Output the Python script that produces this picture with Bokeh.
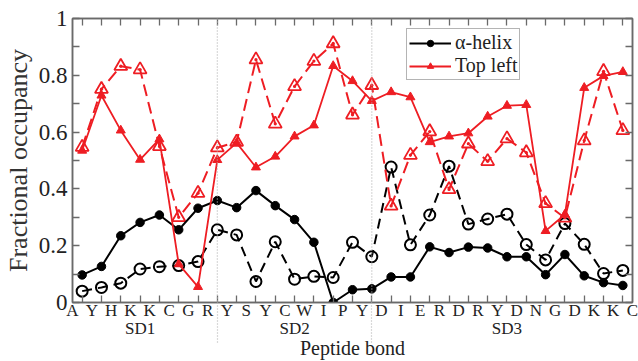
from bokeh.plotting import figure
from bokeh.models import (Range1d, FixedTicker, LinearAxis, Legend, LegendItem, Span)
from bokeh.embed import file_html
from bokeh.resources import INLINE

# ---------------- data ----------------
residues = ["A", "Y", "H", "K", "K", "C", "G", "R",
            "Y", "S", "Y", "C", "W", "I", "P", "Y",
            "D", "I", "E", "R", "D", "R", "Y", "D", "N", "G", "D", "K", "K", "C"]
domains = ["SD1", "SD2", "SD3"]
domain_sizes = [8, 8, 14]

helix_solid = [0.097, 0.127, 0.235, 0.282, 0.308, 0.256, 0.332, 0.359,
               0.334, 0.394, 0.341, 0.292, 0.212, 0.0, 0.045, 0.048,
               0.09, 0.09, 0.196, 0.176, 0.195, 0.192, 0.161, 0.161,
               0.098, 0.169, 0.094, 0.07, 0.06]
helix_dashed = [0.04, 0.053, 0.068, 0.118, 0.126, 0.13, 0.144, 0.256,
                0.238, 0.074, 0.214, 0.082, 0.092, 0.088, 0.212, 0.161,
                0.477, 0.203, 0.308, 0.48, 0.276, 0.294, 0.311, 0.204,
                0.15, 0.278, 0.205, 0.102, 0.113]
topleft_solid = [0.535, 0.729, 0.606, 0.503, 0.575, 0.135, 0.055, 0.502,
                 0.562, 0.476, 0.514, 0.585, 0.624, 0.833, 0.78, 0.71,
                 0.741, 0.723, 0.565, 0.585, 0.596, 0.655, 0.693, 0.696,
                 0.252, 0.31, 0.756, 0.798, 0.812]
topleft_dashed = [0.547, 0.751, 0.832, 0.82, 0.55, 0.30, 0.385, 0.545,
                  0.565, 0.855, 0.629, 0.761, 0.85, 0.912, 0.661, 0.765,
                  0.34, 0.519, 0.602, 0.398, 0.559, 0.497, 0.577, 0.528,
                  0.349, 0.298, 0.57, 0.814, 0.606]

y_ticks = [0, 0.2, 0.4, 0.6, 0.8, 1]
y_tick_labels = ["0", "0.2", "0.4", "0.6", "0.8", "1"]
y_minor = [0.1, 0.3, 0.5, 0.7, 0.9]

# ---------------- derived positions ----------------
n_res = len(residues)
bond_x = [i + 0.5 for i in range(n_res - 1)]
res_x = list(range(n_res))
bounds = []
centers = []
start = 0
for s in domain_sizes:
    centers.append(start + (s - 1) / 2)
    start += s
    bounds.append(start - 0.5)
bounds = bounds[:-1]

FONT = "Liberation Serif"
RED = "#ee1d23"
SPINE = "#6a6a6a"
DOT = "#b4b4b4"

p = figure(width=638, height=361, x_range=Range1d(0, n_res - 1), y_range=Range1d(0, 1),
           output_backend="svg", toolbar_location=None,
           min_border_left=68, min_border_right=6, min_border_top=18, min_border_bottom=59,
           x_axis_location=None, y_axis_location=None)
p.grid.visible = False
p.outline_line_color = SPINE
p.outline_line_width = 1.5
p.background_fill_color = "white"
p.border_fill_color = "white"

x_ticker = FixedTicker(ticks=res_x, minor_ticks=bond_x)
y_ticker = FixedTicker(ticks=y_ticks, minor_ticks=y_minor)
y_all = FixedTicker(ticks=sorted(y_ticks + y_minor))


def style_axis(ax):
    ax.axis_line_color = SPINE
    ax.axis_line_width = 1.5
    ax.major_tick_line_color = SPINE
    ax.minor_tick_line_color = SPINE
    ax.major_tick_line_width = 1.3
    ax.minor_tick_line_width = 1.3
    ax.major_tick_out = 0
    ax.minor_tick_out = 0
    ax.major_label_text_font = FONT
    ax.major_label_text_color = "#222222"


# bottom axis 1: residue letters, ticks at bonds
xb = LinearAxis(ticker=x_ticker,
                major_label_overrides={i: r for i, r in enumerate(residues)})
style_axis(xb)
xb.major_tick_in = 0
xb.minor_tick_in = 7
xb.major_label_text_font_size = "17px"
xb.major_label_standoff = -2
p.add_layout(xb, "below")

# bottom axis 2: sub-domain names
xd = LinearAxis(ticker=FixedTicker(ticks=centers, minor_ticks=[]),
                major_label_overrides={c: d for c, d in zip(centers, domains)})
style_axis(xd)
xd.axis_line_color = None
xd.major_tick_in = 0
xd.minor_tick_in = 0
xd.major_label_text_font_size = "17px"
xd.major_label_standoff = -4
p.add_layout(xd, "below")

# bottom axis 3: dotted domain separators reaching up to the frame, title
xs = LinearAxis(ticker=FixedTicker(ticks=[], minor_ticks=bounds),
                axis_label="Peptide bond")
style_axis(xs)
xs.axis_line_color = None
xs.major_tick_in = 0
xs.minor_tick_in = 38
xs.minor_tick_out = 2
xs.minor_tick_line_color = DOT
xs.minor_tick_line_width = 1.2
xs.minor_tick_line_dash = "1 2"
xs.major_label_text_font_size = "0px"
xs.major_label_standoff = 0
xs.axis_label_text_font = FONT
xs.axis_label_text_font_size = "20px"
xs.axis_label_text_font_style = "normal"
xs.axis_label_text_color = "#222222"
xs.axis_label_standoff = -6
p.add_layout(xs, "below")

# top axis: ticks only
xt = LinearAxis(ticker=x_ticker,
                major_label_overrides={i: "" for i in res_x})
style_axis(xt)
xt.major_tick_in = 0
xt.minor_tick_in = 7
xt.major_label_text_font_size = "0px"
xt.major_label_standoff = 0
p.add_layout(xt, "above")

# left axis
yl = LinearAxis(ticker=y_ticker,
                major_label_overrides={t: s for t, s in zip(y_ticks, y_tick_labels)},
                axis_label="Fractional occupancy")
style_axis(yl)
yl.major_tick_in = 7
yl.minor_tick_in = 7
yl.major_label_text_font_size = "23px"
yl.major_label_standoff = 5
yl.axis_label_text_font = FONT
yl.axis_label_text_font_size = "26px"
yl.axis_label_text_font_style = "normal"
yl.axis_label_text_color = "#333333"
yl.axis_label_standoff = 3
p.add_layout(yl, "left")

# right axis: ticks only
yr = LinearAxis(ticker=y_all, major_label_overrides={t: "" for t in sorted(y_ticks + y_minor)})
style_axis(yr)
yr.major_tick_in = 7
yr.minor_tick_in = 0
yr.major_label_text_font_size = "0px"
yr.major_label_standoff = 0
p.add_layout(yr, "right")

# domain separators inside the frame
for b in bounds:
    p.add_layout(Span(location=b, dimension="height", line_color=DOT,
                      line_dash="1 2", line_width=1.2))

# series
l_hd = p.line(bond_x, helix_dashed, line_color="black", line_width=2, line_dash="10 6")
s_hd = p.scatter(bond_x, helix_dashed, marker="circle", size=11, fill_color=None,
                 line_color="black", line_width=2)
l_td = p.line(bond_x, topleft_dashed, line_color=RED, line_width=2, line_dash="12 6")
s_td = p.scatter(bond_x, topleft_dashed, marker="triangle_dot", size=13, fill_color=None,
                 line_color=RED, line_width=1.8)
l_hs = p.line(bond_x, helix_solid, line_color="black", line_width=2)
s_hs = p.scatter(bond_x, helix_solid, marker="circle", size=8.5, fill_color="black",
                 line_color="black")
l_ts = p.line(bond_x, topleft_solid, line_color=RED, line_width=1.8)
s_ts = p.scatter(bond_x, topleft_solid, marker="triangle", size=9, fill_color=RED,
                 line_color=RED)

legend = Legend(items=[LegendItem(label="α-helix", renderers=[l_hs, s_hs]),
                       LegendItem(label="Top left", renderers=[l_ts, s_ts])],
                location=(334, 222))
legend.label_text_font = FONT
legend.label_text_font_size = "20px"
legend.label_text_color = "#222222"
legend.glyph_width = 42
legend.glyph_height = 16
legend.label_height = 16
legend.label_standoff = 4
legend.spacing = 0
legend.padding = 2
legend.margin = 0
legend.border_line_color = SPINE
legend.border_line_width = 1.3
legend.background_fill_color = "white"
legend.background_fill_alpha = 1.0
p.add_layout(legend)

open("out.html", "w").write(file_html(p, INLINE))
